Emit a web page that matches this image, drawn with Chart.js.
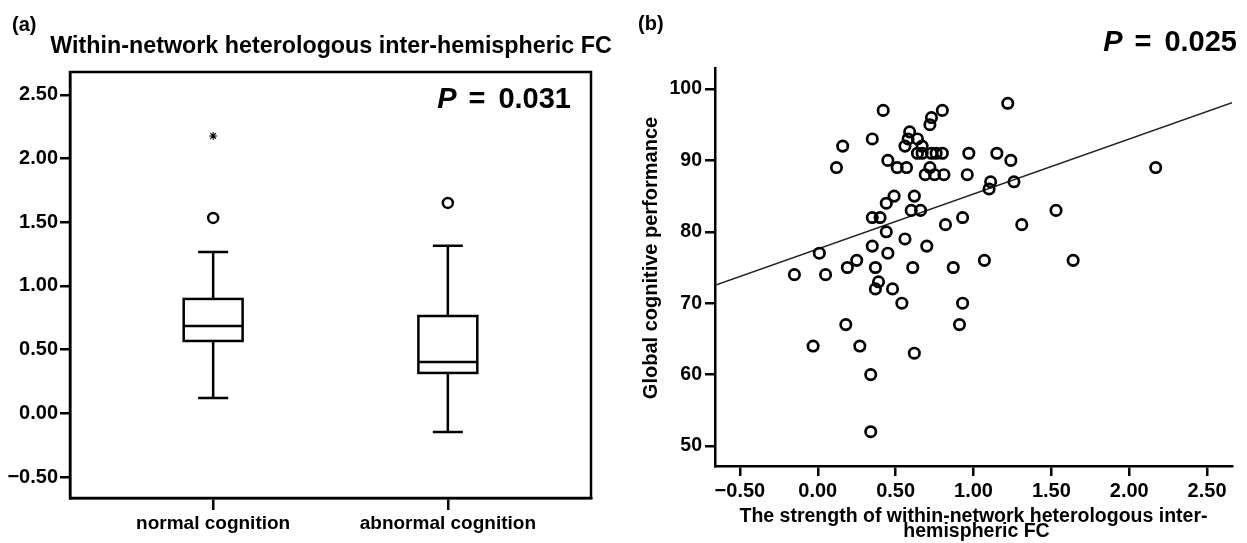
<!DOCTYPE html>
<html><head><meta charset="utf-8">
<script src="https://cdn.jsdelivr.net/npm/chart.js@4.4.1/dist/chart.umd.min.js"></script>
<style>
html,body{margin:0;padding:0;background:#fff;}
#wrap{position:relative;width:1247px;height:543px;overflow:hidden;background:#fff;}
#c1{position:absolute;left:0;top:0;}
#c2{position:absolute;left:620px;top:0;}
</style></head><body>
<div id="wrap">
<canvas id="c1" width="620" height="543" style="width:620px;height:543px"></canvas>
<canvas id="c2" width="627" height="543" style="width:627px;height:543px"></canvas>
</div>
<script>
// ---------- Panel (a): box plot data ----------
const groupLabels = ['normal cognition', 'abnormal cognition'];
const groupPos = [1, 2];
const lowerWhisker = [0.12, -0.147];
const lowerQuartile = [0.568, 0.317];
const medianValue = [0.686, 0.403];
const upperQuartile = [0.898, 0.764];
const upperWhisker = [1.267, 1.315];
const outlierGroup = [1, 2];
const outlierValue = [1.534, 1.652];
const extremeGroup = [1];
const extremeValue = [2.178];
const boxYTicks = [-0.5, 0, 0.5, 1, 1.5, 2, 2.5];
const pValueA = '0.031';

// ---------- Panel (b): scatter data ----------
const fcStrength = [1.22, 0.42, 0.80, 0.73, 0.72, 0.59, 0.35, 0.58, 0.64, 0.16, 0.56, 0.67,
  0.64, 0.67, 0.73, 0.76, 0.80, 0.97, 1.15, 0.45, 1.24, 0.12, 0.51, 0.57, 0.72, 2.17,
  0.69, 0.75, 0.81, 0.96, 1.11, 1.26, 1.10, 0.49, 0.62, 0.44, 0.60, 0.66, 1.53,
  0.35, 0.40, 0.93, 0.82, 1.31, 0.44, 0.56, 0.35, 0.70, 0.01, 0.45, 0.25, 1.07, 1.64,
  0.19, 0.37, 0.61, 0.87, -0.15, 0.05, 0.39, 0.37, 0.48, 0.54, 0.93, 0.18, 0.91,
  -0.03, 0.27, 0.62, 0.34, 0.34];
const cognitionScore = [98, 97, 97, 96, 95, 94, 93, 93, 93, 92, 92, 92,
  91, 91, 91, 91, 91, 91, 91, 90, 90, 89, 89, 89, 89, 89,
  88, 88, 88, 88, 87, 87, 86, 85, 85, 84, 83, 83, 83,
  82, 82, 82, 81, 81, 80, 79, 78, 78, 77, 77, 76, 76, 76,
  75, 75, 75, 75, 74, 74, 73, 72, 72, 70, 70, 67, 67,
  64, 64, 63, 60, 52];
const scatterXTicks = [-0.5, 0, 0.5, 1, 1.5, 2, 2.5];
const scatterYTicks = [50, 60, 70, 80, 90, 100];
const fitIntercept = 77.6;
const fitSlope = 7.7;
const pValueB = '0.025';

// ---------- common ----------
const FONT = "'Liberation Sans', Arial, sans-serif";
Chart.defaults.font.family = FONT;
Chart.defaults.font.weight = 'bold';
Chart.defaults.color = '#000';

function fmt2(v) { return (v < 0 ? '\u2212' : '') + Math.abs(v).toFixed(2); }

function drawP(ctx, rightX, cy, value) {
  ctx.save();
  ctx.fillStyle = '#000';
  ctx.textBaseline = 'middle';
  ctx.textAlign = 'left';
  const size = 29;
  ctx.font = 'bold ' + size + 'px ' + FONT;
  const numW = ctx.measureText(value).width;
  const eqW = ctx.measureText('=').width;
  ctx.font = 'italic bold ' + size + 'px ' + FONT;
  const pW = ctx.measureText('P').width;
  const gap1 = 12, gap2 = 13;
  let x = rightX - (pW + gap1 + eqW + gap2 + numW);
  ctx.fillText('P', x, cy);
  ctx.font = 'bold ' + size + 'px ' + FONT;
  x += pW + gap1;
  ctx.fillText('=', x, cy);
  x += eqW + gap2;
  ctx.fillText(value, x, cy);
  ctx.restore();
}

const axisGrid = (len) => ({ display: true, drawOnChartArea: false, drawTicks: true,
  tickLength: len, tickWidth: 2.5, tickColor: '#000', color: '#000', lineWidth: 2.5 });
const axisBorder = { display: true, color: '#000', width: 2.5 };

// ---------- Panel (a) ----------
const boxPlugin = {
  id: 'boxPlot',
  afterDatasetsDraw(chart) {
    const { ctx, scales: { x, y }, chartArea: a } = chart;
    ctx.save();
    ctx.strokeStyle = '#000';
    ctx.lineWidth = 2.5;
    groupPos.forEach((g, i) => {
      const cx = x.getPixelForValue(g);
      const hw = x.getPixelForValue(g + 0.1255) - cx;
      const cw = x.getPixelForValue(g + 0.064) - cx;
      const yLW = y.getPixelForValue(lowerWhisker[i]);
      const yQ1 = y.getPixelForValue(lowerQuartile[i]);
      const yMd = y.getPixelForValue(medianValue[i]);
      const yQ3 = y.getPixelForValue(upperQuartile[i]);
      const yUW = y.getPixelForValue(upperWhisker[i]);
      ctx.beginPath();
      ctx.moveTo(cx, yUW); ctx.lineTo(cx, yQ3);
      ctx.moveTo(cx, yQ1); ctx.lineTo(cx, yLW);
      ctx.moveTo(cx - cw, yUW); ctx.lineTo(cx + cw, yUW);
      ctx.moveTo(cx - cw, yLW); ctx.lineTo(cx + cw, yLW);
      ctx.stroke();
      ctx.fillStyle = '#fff';
      ctx.fillRect(cx - hw, yQ3, 2 * hw, yQ1 - yQ3);
      ctx.strokeRect(cx - hw, yQ3, 2 * hw, yQ1 - yQ3);
      ctx.beginPath();
      ctx.moveTo(cx - hw, yMd); ctx.lineTo(cx + hw, yMd);
      ctx.stroke();
    });
    ctx.strokeRect(a.left, a.top, a.right - a.left, a.bottom - a.top);
    ctx.restore();
  },
  afterDraw(chart) {
    const ctx = chart.ctx;
    ctx.save();
    ctx.fillStyle = '#000';
    ctx.textBaseline = 'middle';
    ctx.textAlign = 'left';
    ctx.font = 'bold 20px ' + FONT;
    ctx.fillText('(a)', 12, 25);
    ctx.textAlign = 'center';
    ctx.font = 'bold 23.3px ' + FONT;
    ctx.fillText('Within-network heterologous inter-hemispheric FC', 331, 47);
    ctx.restore();
    drawP(ctx, 571, 100, pValueA);
  }
};

new Chart(document.getElementById('c1'), {
  type: 'scatter',
  data: {
    datasets: [
      { data: outlierGroup.map((g, i) => ({ x: g, y: outlierValue[i] })),
        pointStyle: 'circle', pointRadius: 5, pointBorderWidth: 2.5,
        pointBorderColor: '#000', pointBackgroundColor: 'rgba(0,0,0,0)' },
      { data: extremeGroup.map((g, i) => ({ x: g, y: extremeValue[i] })),
        pointStyle: 'star', pointRadius: 4, pointBorderWidth: 1.1,
        pointBorderColor: '#000', pointBackgroundColor: '#000' }
    ]
  },
  options: {
    responsive: false, animation: false,
    layout: { padding: { left: 0, right: 29, top: 72, bottom: 0 } },
    plugins: { legend: { display: false }, tooltip: { enabled: false } },
    scales: {
      x: {
        type: 'linear', min: 0.39, max: 2.61,
        afterBuildTicks: (s) => { s.ticks = groupPos.map(v => ({ value: v })); },
        afterFit: (s) => { s.height = 45; },
        ticks: { callback: (v) => groupLabels[groupPos.indexOf(v)], font: { size: 19, weight: 'bold' },
          padding: 2, maxRotation: 0, autoSkip: false, color: '#000' },
        grid: axisGrid(12), border: axisBorder
      },
      y: {
        min: -0.665, max: 2.68,
        afterBuildTicks: (s) => { s.ticks = boxYTicks.map(v => ({ value: v })); },
        afterFit: (s) => { s.width = 70; },
        ticks: { callback: (v) => fmt2(v), font: { size: 20, weight: 'bold' }, padding: 2, color: '#000' },
        grid: axisGrid(10), border: axisBorder
      }
    }
  },
  plugins: [boxPlugin]
});

// ---------- Panel (b) ----------
const xMinB = -0.66, xMaxB = 2.66;
const textPluginB = {
  id: 'textB',
  afterDraw(chart) {
    const ctx = chart.ctx;
    ctx.save();
    ctx.fillStyle = '#000';
    ctx.textBaseline = 'middle';
    ctx.textAlign = 'left';
    ctx.font = 'bold 20px ' + FONT;
    ctx.fillText('(b)', 18, 24);
    ctx.textAlign = 'center';
    ctx.font = 'bold 19.5px ' + FONT;
    const a = chart.chartArea;
    const cx = (a.left + a.right) / 2;
    ctx.fillText('The strength of within-network heterologous inter-', cx, 517);
    ctx.fillText('hemispheric FC', cx + 3, 532);
    ctx.translate(31, 258);
    ctx.rotate(-Math.PI / 2);
    ctx.font = 'bold 20px ' + FONT;
    ctx.fillText('Global cognitive performance', 0, 0);
    ctx.restore();
    drawP(ctx, 617, 43, pValueB);
  }
};

new Chart(document.getElementById('c2'), {
  type: 'scatter',
  data: {
    datasets: [
      { data: fcStrength.map((v, i) => ({ x: v, y: cognitionScore[i] })),
        pointStyle: 'circle', pointRadius: 5.2, pointBorderWidth: 2.7,
        pointBorderColor: '#000', pointBackgroundColor: 'rgba(0,0,0,0)' },
      { type: 'line',
        data: [xMinB, xMaxB].map(x => ({ x: x, y: fitIntercept + fitSlope * x })),
        borderColor: '#222', borderWidth: 1.5, pointRadius: 0, fill: false, showLine: true }
    ]
  },
  options: {
    responsive: false, animation: false,
    layout: { padding: { left: 0, right: 15, top: 68, bottom: 0 } },
    plugins: { legend: { display: false }, tooltip: { enabled: false } },
    scales: {
      x: {
        type: 'linear', min: xMinB, max: xMaxB,
        afterBuildTicks: (s) => { s.ticks = scatterXTicks.map(v => ({ value: v })); },
        afterFit: (s) => { s.height = 77; },
        ticks: { callback: (v) => fmt2(v), font: { size: 20, weight: 'bold' }, padding: 3,
          maxRotation: 0, autoSkip: false, color: '#000' },
        grid: axisGrid(10), border: axisBorder
      },
      y: {
        min: 47.2, max: 102.94,
        afterBuildTicks: (s) => { s.ticks = scatterYTicks.map(v => ({ value: v })); },
        afterFit: (s) => { s.width = 95; },
        ticks: { callback: (v) => String(v), font: { size: 19.5, weight: 'bold' }, padding: 3, color: '#000' },
        grid: axisGrid(10), border: axisBorder
      }
    }
  },
  plugins: [textPluginB]
});
</script>
</body></html>
